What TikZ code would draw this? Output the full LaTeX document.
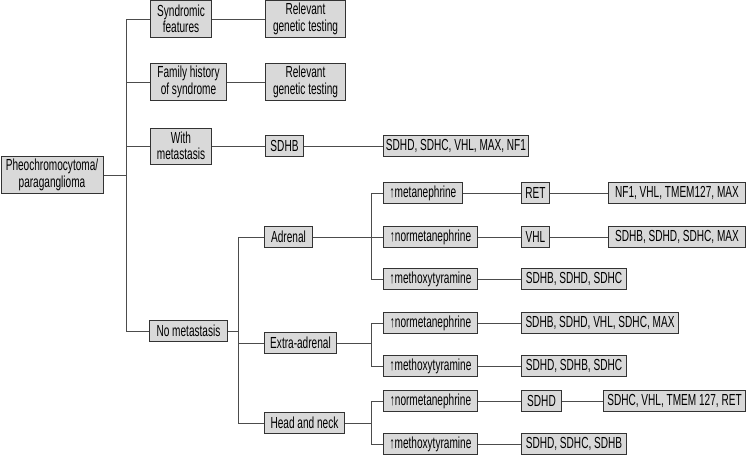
\documentclass[tikz,border=0pt]{standalone}
\usepackage{fontspec}
\setmainfont[FakeStretch=0.63]{Liberation Sans}
\usepackage{tikz}

\begin{document}
\begin{tikzpicture}[x=1pt,y=-1pt,line width=1pt,
	gbox/.style={draw=black!80, fill=black!15, anchor=west, inner sep=2pt,
		minimum height=21, align=center, font=\fontsize{16}{16.5}\selectfont},
	gbox2/.style={gbox, minimum height=37},
	link/.style={draw=black!70}]
\useasboundingbox (0,0) rectangle (750,455);

% first level
\node[gbox2, minimum width=102] (root) at (0.5,175) {Pheochromocytoma/\\paraganglioma};
\node[gbox2, minimum width=61] (synd) at (150,19) {Syndromic\\features};
\node[gbox2, minimum width=80] (rgt1) at (265,19) {Relevant\\genetic testing};
\node[gbox2, minimum width=76] (fam) at (150,82) {Family history\\of syndrome};
\node[gbox2, minimum width=80] (rgt2) at (265,82) {Relevant\\genetic testing};
\node[gbox2, minimum width=61, minimum height=36] (wmet) at (150,146) {With\\metastasis};
\node[gbox, minimum width=38] (sdhb) at (265,146) {SDHB};
\node[gbox, minimum width=145] (wgen) at (383,146) {SDHD, SDHC, VHL, MAX, NF1};
\node[gbox, minimum width=78] (nomet) at (149,331) {No metastasis};

% location
\node[gbox, minimum width=48] (adr) at (264,237) {Adrenal};
\node[gbox, minimum width=72] (extra) at (264,343) {Extra-adrenal};
\node[gbox, minimum width=80] (head) at (264,423) {Head and neck};

% adrenal
\node[gbox, minimum width=79] (ameta) at (383,193) {↑metanephrine};
\node[gbox, minimum width=28] (ret) at (521,193) {RET};
\node[gbox, minimum width=137] (retgen) at (608,193) {NF1, VHL, TMEM127, MAX};
\node[gbox, minimum width=94] (anor) at (383,237) {↑normetanephrine};
\node[gbox, minimum width=28] (vhl) at (521,237) {VHL};
\node[gbox, minimum width=137] (vhlgen) at (608,237) {SDHB, SDHD, SDHC, MAX};
\node[gbox, minimum width=94] (amox) at (383,279) {↑methoxytyramine};
\node[gbox, minimum width=105] (amoxgen) at (521,279) {SDHB, SDHD, SDHC};

% extra-adrenal
\node[gbox, minimum width=94] (enor) at (383,323) {↑normetanephrine};
\node[gbox, minimum width=157] (enorgen) at (521,323) {SDHB, SDHD, VHL, SDHC, MAX};
\node[gbox, minimum width=94] (emox) at (383,366) {↑methoxytyramine};
\node[gbox, minimum width=105] (emoxgen) at (521,366) {SDHD, SDHB, SDHC};

% head and neck
\node[gbox, minimum width=94] (hnor) at (383,401) {↑normetanephrine};
\node[gbox, minimum width=40] (sdhd) at (521,401) {SDHD};
\node[gbox, minimum width=142] (sdhdgen) at (603,401) {SDHC, VHL, TMEM 127, RET};
\node[gbox, minimum width=94] (hmox) at (383,444) {↑methoxytyramine};
\node[gbox, minimum width=105] (hmoxgen) at (521,444) {SDHD, SDHC, SDHB};

\coordinate (t1) at (126,175);
\coordinate (t2) at (238,331);
\coordinate (ta) at (371,237);
\coordinate (te) at (371,343);
\coordinate (th) at (371,423);

\draw[link] (root.east) -- (t1);
\foreach \n in {synd,fam,wmet,nomet}
	\draw[link] (\n.west) -| (t1);
\draw[link] (synd.east) -- (rgt1.west);
\draw[link] (fam.east) -- (rgt2.west);
\draw[link] (wmet.east) -- (sdhb.west);
\draw[link] (sdhb.east) -- (wgen.west);

\draw[link] (nomet.east) -- (t2);
\foreach \n in {adr,extra,head}
	\draw[link] (\n.west) -| (t2);

\draw[link] (adr.east) -- (ta);
\foreach \n in {ameta,anor,amox}
	\draw[link] (\n.west) -| (ta);
\draw[link] (extra.east) -- (te);
\foreach \n in {enor,emox}
	\draw[link] (\n.west) -| (te);
\draw[link] (head.east) -- (th);
\foreach \n in {hnor,hmox}
	\draw[link] (\n.west) -| (th);

\draw[link] (ameta.east) -- (ret.west);
\draw[link] (ret.east) -- (retgen.west);
\draw[link] (anor.east) -- (vhl.west);
\draw[link] (vhl.east) -- (vhlgen.west);
\draw[link] (amox.east) -- (amoxgen.west);
\draw[link] (enor.east) -- (enorgen.west);
\draw[link] (emox.east) -- (emoxgen.west);
\draw[link] (hnor.east) -- (sdhd.west);
\draw[link] (sdhd.east) -- (sdhdgen.west);
\draw[link] (hmox.east) -- (hmoxgen.west);

\end{tikzpicture}
\end{document}
